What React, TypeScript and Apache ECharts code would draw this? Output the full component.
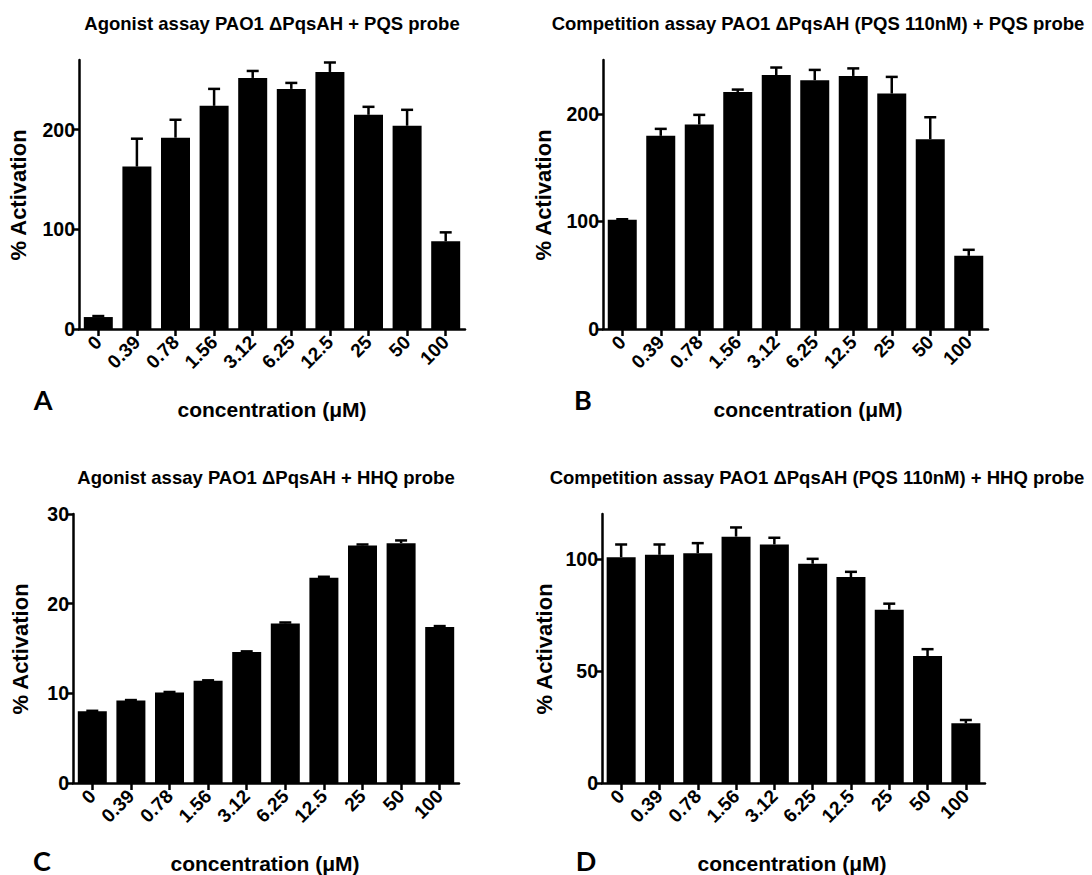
import React, { useEffect, useRef } from "react";
import * as echarts from "echarts";

const categories = ["0", "0.39", "0.78", "1.56", "3.12", "6.25", "12.5", "25", "50", "100"];

const valuesA = [12, 163, 192, 224, 252, 241, 258, 215, 204, 88];
const errorsA = [1, 28, 18, 17, 7, 6, 9.5, 8, 16, 9];

const valuesB = [101.5, 179.5, 190, 220.3, 236, 231.2, 235.2, 218.8, 176.4, 68];
const errorsB = [0.5, 6.5, 9, 2.2, 7, 9.6, 7, 15.5, 20.4, 5.6];

const valuesC = [8.0, 9.2, 10.1, 11.4, 14.6, 17.8, 22.9, 26.5, 26.75, 17.4];
const errorsC = [0.05, 0.05, 0.05, 0.05, 0.08, 0.1, 0.1, 0.1, 0.3, 0.1];

const valuesD = [100.7, 101.8, 102.5, 109.9, 106.4, 97.8, 91.9, 77.3, 56.6, 26.6];
const errorsD = [5.7, 4.6, 4.5, 4.1, 3, 2.2, 2.3, 2.7, 3.1, 1.5];

const ticksA = [0, 100, 200];
const ticksB = [0, 100, 200];
const ticksC = [0, 10, 20, 30];
const ticksD = [0, 50, 100];

const titles = [
  "Agonist assay PAO1 \u0394PqsAH + PQS probe",
  "Competition assay PAO1 \u0394PqsAH (PQS 110nM) + PQS probe",
  "Agonist assay PAO1 \u0394PqsAH + HHQ probe",
  "Competition assay PAO1 \u0394PqsAH (PQS 110nM) + HHQ probe",
];
const panelLetters = ["A", "B", "C", "D"];
const yName = "% Activation";
const xName = "concentration (\u03bcM)";

const FONT = "'Liberation Sans', Arial, Helvetica, sans-serif";

export default function App() {
  const ref = useRef<HTMLDivElement>(null);

  useEffect(() => {
    document.body.style.margin = "0";
    if (!ref.current) return;
    const chart = echarts.init(ref.current, null, { renderer: "svg" });

    const panels = [
      { left: 79, top: 60, width: 386, height: 269, max: 270, ticks: ticksA, vals: valuesA, errs: errorsA },
      { left: 603, top: 60, width: 385, height: 269, max: 250, ticks: ticksB, vals: valuesB, errs: errorsB },
      { left: 73, top: 514, width: 386, height: 269, max: 30, ticks: ticksC, vals: valuesC, errs: errorsC },
      { left: 602, top: 514, width: 383, height: 269, max: 120, ticks: ticksD, vals: valuesD, errs: errorsD },
    ];

    const grid = panels.map((p) => ({
      left: p.left,
      top: p.top,
      width: p.width,
      height: p.height,
      containLabel: false,
      outerBoundsMode: "none",
    }));

    const axisLineStyle = { color: "#000", width: 2.5 };

    const xAxis = panels.map((p, i) => ({
      type: "category",
      gridIndex: i,
      data: categories,
      boundaryGap: true,
      axisLine: { show: true, lineStyle: axisLineStyle },
      axisTick: { show: true, alignWithLabel: true, length: 7, lineStyle: { color: "#000", width: 2.5 } },
      axisLabel: {
        rotate: 45,
        margin: 10,
        interval: 0,
        color: "#000",
        fontFamily: FONT,
        fontWeight: "bold",
        fontSize: 19,
      },
      splitLine: { show: false },
    }));

    const yAxis = panels.map((p, i) => ({
      type: "value",
      gridIndex: i,
      min: 0,
      max: p.max,
      axisLine: { show: true, lineStyle: axisLineStyle },
      axisTick: { show: true, length: 7, customValues: p.ticks, lineStyle: { color: "#000", width: 2.5 } },
      axisLabel: {
        customValues: p.ticks,
        margin: 4,
        color: "#000",
        fontFamily: FONT,
        fontWeight: "bold",
        fontSize: 19.5,
      },
      splitLine: { show: false },
    }));

    const series: any[] = [];
    panels.forEach((p, i) => {
      series.push({
        type: "bar",
        xAxisIndex: i,
        yAxisIndex: i,
        data: p.vals,
        barWidth: 29,
        itemStyle: { color: "#000" },
        z: 2,
      });
      series.push({
        type: "custom",
        xAxisIndex: i,
        yAxisIndex: i,
        z: 3,
        encode: { x: 0, y: 1 },
        data: p.vals.map((v, k) => [k, v, p.errs[k]]),
        renderItem: (params: any, api: any) => {
          const idx = api.value(0);
          const v = api.value(1);
          const e = api.value(2);
          const p0 = api.coord([idx, v]);
          const p1 = api.coord([idx, v + e]);
          const st = { stroke: "#000", lineWidth: 2.5 };
          return {
            type: "group",
            children: [
              { type: "line", shape: { x1: p0[0], y1: p0[1], x2: p1[0], y2: p1[1] }, style: st },
              { type: "line", shape: { x1: p1[0] - 6, y1: p1[1], x2: p1[0] + 6, y2: p1[1] }, style: st },
            ],
          };
        },
      });
    });

    const titlePos = [
      [272, 23],
      [818, 23],
      [266, 477],
      [817, 477],
    ];
    const yNamePos = [
      [18, 195],
      [543, 195],
      [20, 649],
      [544, 649],
    ];
    const xNamePos = [
      [272, 409],
      [808, 409],
      [265, 863],
      [792, 863],
    ];
    const letterPos = [
      [43, 399],
      [583, 399],
      [42, 860],
      [586, 860],
    ];

    const graphic: any[] = [];
    for (let i = 0; i < 4; i++) {
      graphic.push({
        type: "text",
        x: titlePos[i][0],
        y: titlePos[i][1],
        style: {
          text: titles[i],
          fill: "#000",
          font: `bold 18.5px ${FONT}`,
          align: "center",
          verticalAlign: "middle",
        },
      });
      graphic.push({
        type: "text",
        x: yNamePos[i][0],
        y: yNamePos[i][1],
        rotation: Math.PI / 2,
        style: {
          text: yName,
          fill: "#000",
          font: `bold 22px ${FONT}`,
          align: "center",
          verticalAlign: "middle",
        },
      });
      graphic.push({
        type: "text",
        x: xNamePos[i][0],
        y: xNamePos[i][1],
        style: {
          text: xName,
          fill: "#000",
          font: `bold 21px ${FONT}`,
          align: "center",
          verticalAlign: "middle",
        },
      });
      graphic.push({
        type: "text",
        x: letterPos[i][0],
        y: letterPos[i][1],
        style: {
          text: panelLetters[i],
          fill: "#000",
          font: `bold 27px Lato, 'Open Sans', sans-serif`,
          align: "center",
          verticalAlign: "middle",
        },
      });
    }

    chart.setOption({
      animation: false,
      backgroundColor: "#fff",
      grid,
      xAxis,
      yAxis,
      series,
      graphic,
    });

    return () => chart.dispose();
  }, []);

  return (
    <div
      ref={ref}
      style={{ position: "absolute", left: 0, top: 0, width: 1092, height: 875 }}
    />
  );
}
